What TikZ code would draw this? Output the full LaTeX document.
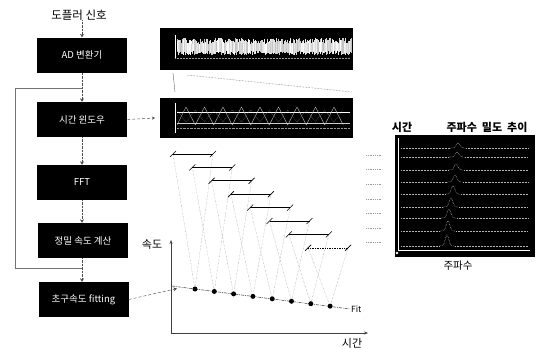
\documentclass[tikz,border=0pt]{standalone}
\usepackage{fontspec}
\newfontfamily\kr{Noto Sans CJK KR}
\usetikzlibrary{arrows.meta,calc}
\begin{document}
\begin{tikzpicture}[x=1pt,y=-1pt,font=\kr,
  blk/.style={fill=black,text=white,minimum width=90pt,minimum height=35pt,inner sep=0pt,font=\kr\fontsize{9.5}{10}\selectfont},
  flow/.style={densely dotted,black!70,-{Stealth[length=3.5pt,width=4pt]}},
  loopline/.style={black!55,line width=0.5pt},
  panel/.style={fill=black},
  lbl/.style={inner sep=0pt,font=\kr\fontsize{10}{11}\selectfont},
  vline/.style={densely dotted,black!45,line width=0.4pt},
  winbar/.style={line width=0.7pt,black},
  dotp/.style={circle,fill=black,inner sep=0pt,minimum size=5pt}]
\useasboundingbox (0,0) rectangle (537,349);

% ---------- flow chart ----------
\node[lbl,font=\kr\fontsize{11.5}{12}\selectfont] (src) at (79,15) {도플러 신호};
\node[blk] (ad) at (82,55) {AD 변환기};
\node[blk] (tw) at (82,119.5) {시간 윈도우};
\node[blk] (fft) at (82,182.5) {FFT};
\node[blk] (vel) at (83,240.5) {정밀 속도 계산};
\node[blk] (fit) at (83.5,299.5) {초구속도 fitting};

\draw[flow] (src.south -| ad.north) -- (ad.north);
\draw[flow] (ad) -- (tw);
\draw[flow] (tw) -- (fft);
\draw[flow] (fft.south) -- (fft.south |- vel.north);
\draw[flow] (vel.south -| fft.south) -- (fit.north -| fft.south);

\coordinate (jt) at (82,88);
\coordinate (jb) at (82,268);
\draw[loopline] (jt) -- (15,88) -- (15,268) -- (jb);

% ---------- waveform panels ----------
\node[panel,minimum width=193pt,minimum height=42pt,inner sep=0pt] (p1) at (256.5,49) {};
\node[panel,minimum width=193pt,minimum height=40pt,inner sep=0pt] (p2) at (256.5,118) {};

\draw[white,line width=0.4pt] (175,35) -- (175,58);
\draw[black!40,densely dotted,line width=0.5pt] (175,58.5) -- (350,58.5);
\pgfmathsetseed{7}
\foreach \i in {0,...,290} {
  \pgfmathsetmacro\xx{177+0.6*\i}
  \pgfmathsetmacro\ta{44-6*rnd}
  \pgfmathsetmacro\tb{51+4*rnd}
  \pgfmathsetmacro\gg{75+25*rnd}
  \draw[white!\gg!black,line width=0.5pt] (\xx,\ta) -- (\xx,\tb);
}

% zoom indication
\draw[black!60,line width=0.4pt] (173,73) -- (175,92);
\draw[black!60,densely dotted,line width=0.5pt] (187,75) -- (352,92);

% panel 2 content
\draw[white,line width=0.4pt] (175,103) -- (175,133);
\draw[white,line width=0.5pt] (177,112) -- (350,112);
\draw[white!75!black,line width=0.4pt] (177,125) \foreach \k in {0,...,8} { -- ({186+18.5*\k},107) -- ({195.25+18.5*\k},125) };
\draw[white!60!black,densely dotted,line width=0.4pt] (177,110) \foreach \k in {0,...,8} { -- ({186+18.5*\k},122) -- ({195.25+18.5*\k},110) };
\draw[white!80!black,line width=0.4pt] (177,123) -- (350,123);
\draw[white!60!black,densely dotted,line width=0.4pt] (177,128) -- (350,128);

\coordinate (p2in) at (155,118);
\draw[densely dashed,black!70,-{Stealth[length=3pt,width=3pt]}] (tw.east) -- (p2in);

% ---------- velocity graph ----------
\coordinate (o) at (171,333);
\draw[black!75,line width=0.5pt,-{Stealth[length=4pt,width=3pt]}] (o) -- (171,240);
\draw[black!75,line width=0.5pt,-{Stealth[length=4pt,width=3pt]}] (o) -- (368,333);
\node[lbl,font=\kr\fontsize{11}{12}\selectfont] (vlab) at (152,244) {속도};
\node[lbl,font=\kr\fontsize{11}{12}\selectfont] (tlab) at (352,343) {시간};

\foreach \i in {0,...,7} {
  \pgfmathsetmacro\lx{173+19.3*\i}
  \pgfmathsetmacro\ly{154+13.4*\i}
  \pgfmathsetmacro\dx{195+19.3*\i}
  \pgfmathsetmacro\dy{289+2.45*\i}
  \coordinate (L\i) at (\lx,\ly);
  \coordinate (R\i) at ({\lx+40},\ly);
  \coordinate (D\i) at (\dx,\dy);
  \draw[vline] (L\i) -- (D\i) -- (R\i);
}
\foreach \i in {0,...,6} {
  \draw[winbar] (L\i) -- (R\i);
}
\draw[winbar,densely dotted,line width=0.6pt] (L7) -- (R7);
\foreach \i in {0,...,7} {
  \draw[line width=0.6pt] ($(L\i)+(-3,3)$) -- ($(L\i)+(3,-3)$);
  \draw[line width=0.6pt] ($(R\i)+(-3,3)$) -- ($(R\i)+(3,-3)$);
}

\coordinate (f0) at (172,286);
\coordinate (f1) at (350,309);
\draw[black!80,dash pattern=on 3pt off 1pt on 0.8pt off 1pt,line width=0.5pt] (f0) -- (f1);
\foreach \i in {0,...,7} { \node[dotp] at (D\i) {}; }
\node[lbl,font=\kr\fontsize{8.5}{9}\selectfont,anchor=west] (fitlab) at (351,309) {Fit};

\coordinate (gin) at (177,288.5);
\draw[densely dashed,black!75,-{Stealth[length=3.5pt,width=3.5pt]}] (fit.east) -- (gin);

% ---------- spectrum panel ----------
\node[lbl,font=\kr\bfseries\fontsize{11}{12}\selectfont] (tsp) at (402,127) {시간};
\node[lbl,font=\kr\bfseries\fontsize{11}{12}\selectfont] (fsp) at (487,127) {주파수\ \ 밀도\ \ 추이};
\node[panel,minimum width=140pt,minimum height=122pt,inner sep=0pt] (p3) at (465,196) {};
\node[lbl,font=\kr\fontsize{10.5}{11}\selectfont] (fax) at (458,266) {주파수};
\draw[white,line width=0.5pt] (398,138) -- (398,250) -- (530,250);
\fill[white] (397,253) circle (1.3pt);
\foreach \yy/\px/\h in {148/458/5, 157/457/5, 170/456/6, 182/455/7, 194/453/8, 207/451/9, 218/449/9, 231/448/10, 246/447/11} {
  \draw[white!70!black,densely dotted,line width=0.5pt] (401,\yy) -- ({\px-8},\yy);
  \draw[white!70!black,densely dotted,line width=0.5pt] ({\px+8},\yy) -- (528,\yy);
  \draw[white!85!black,densely dotted,line width=0.5pt] plot[domain={\px-8}:{\px+8},samples=25] (\x,{\yy-\h*exp(-((\x-\px)/2.5)^2)});
}
% time labels (illegible in the reference)
\foreach \yy in {155,169,184,199,213,228,242} {
  \draw[black!40,densely dotted,line width=0.8pt] (366,\yy) -- (381,\yy);
}
\end{tikzpicture}
\end{document}
